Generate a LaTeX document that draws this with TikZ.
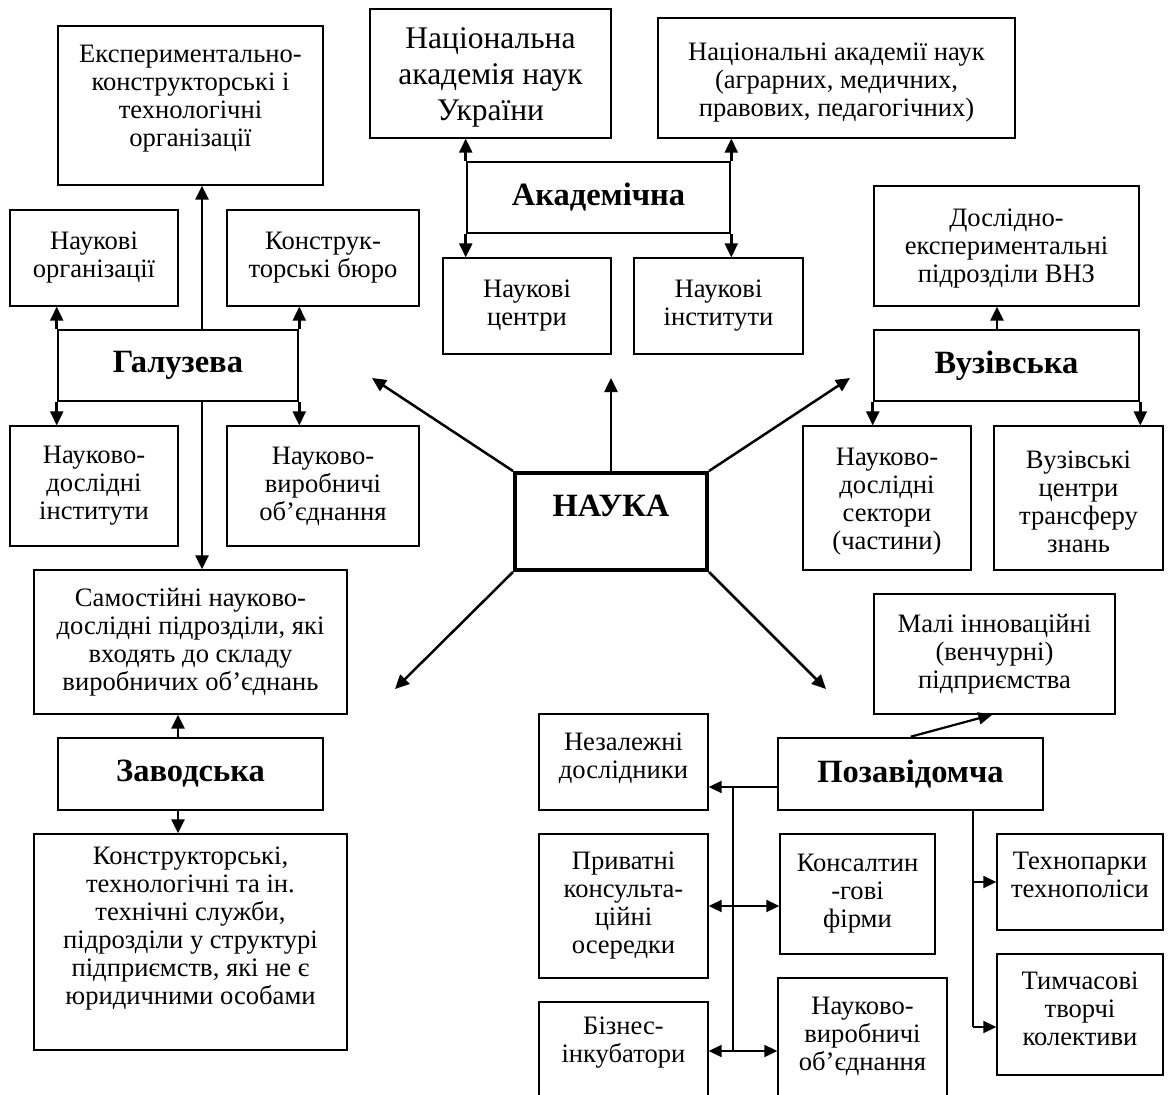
\documentclass[tikz,border=0pt]{standalone}
\usepackage{fontspec}
\setmainfont{Liberation Serif}
\usetikzlibrary{arrows.meta,calc}
\newcommand\nrmtxt{\fontsize{26.6}{28}\selectfont}
\newcommand\bigtxt{\fontsize{31.5}{36}\selectfont}
\newcommand\bldtxt{\fontsize{32.5}{36}\selectfont\bfseries}
\begin{document}
\begin{tikzpicture}[x=1pt,y=-1pt,
  box/.style={draw, line width=1.3pt, align=center, inner sep=2pt, font=\nrmtxt},
  bbox/.style={draw, line width=2.6pt, align=center, inner sep=2pt, font=\bldtxt},
  txt/.style={align=center, inner sep=0pt, font=\nrmtxt},
  arr/.style={line width=2.5pt, -{Triangle[length=14pt,width=13pt]}},
  parr/.style={line width=1.8pt, -{Triangle[length=13pt,width=12pt]}},
  pline/.style={line width=1.8pt}]
\useasboundingbox (0,0) rectangle (1168,1095);
\clip (0,0) rectangle (1168,1095);
% ---------- Galuzeva ----------
\node[box, minimum width=265pt, minimum height=159pt] (ekt) at (190.5,105.5) {};
\node[txt] (ektt) at ([yshift=7pt]ekt.center) {Експериментально-\\конструкторські і\\технологічні\\організації};
\node[box, minimum width=168pt, minimum height=96pt] (norg) at (94,258) {Наукові\\організації};
\node[box, minimum width=192pt, minimum height=96pt] (kb) at (323,258) {Конструк-\\торські бюро};
\node[bbox, minimum width=240pt, minimum height=71pt] (gal) at (178,365.5) {Галузева};
\node[box, minimum width=168pt, minimum height=120pt] (ndi) at (94,486) {Науково-\\дослідні\\інститути};
\node[box, minimum width=192pt, minimum height=120pt] (nvo) at (323,486) {Науково-\\виробничі\\об’єднання};
\node[box, minimum width=313pt, minimum height=144pt] (sam) at (190.5,642) {Самостійні науково-\\дослідні підрозділи, які\\входять до складу\\виробничих об’єднань};
\node[bbox, minimum width=265pt, minimum height=72pt] (zav) at (190.5,774) {Заводська};
\node[box, minimum width=313pt, minimum height=216pt] (kts) at (190.5,942) {};
\node[txt] (ktst) at ([yshift=13pt]kts.center) {Конструкторські,\\технологічні та ін.\\технічні служби,\\підрозділи у структурі\\підприємств, які не є\\юридичними особами};
% ---------- Akademichna ----------
\node[box, minimum width=241pt, minimum height=129pt] (nanu) at (490.5,73.5) {};
\node[txt, font=\bigtxt] (nanut) at ([yshift=-4pt]nanu.center) {Національна\\академія наук\\України};
\node[box, minimum width=357pt, minimum height=120pt] (nan) at (836.5,78) {};
\node[txt] (nant) at ([yshift=-5pt]nan.center) {Національні академії наук\\(аграрних, медичних,\\правових, педагогічних)};
\node[bbox, minimum width=263pt, minimum height=71pt] (akad) at (598.5,197.5) {Академічна};
\node[box, minimum width=168pt, minimum height=96pt] (nc) at (527,306) {Наукові\\центри};
\node[box, minimum width=169pt, minimum height=96pt] (ni) at (718.5,306) {Наукові\\інститути};
% ---------- Vuzivska ----------
\node[box, minimum width=265pt, minimum height=120pt] (dex) at (1006.5,246) {};
\node[txt] (dext) at ([yshift=-3pt]dex.center) {Дослідно-\\експериментальні\\підрозділи ВНЗ};
\node[bbox, minimum width=265pt, minimum height=71pt] (vuz) at (1006.5,365.5) {Вузівська};
\node[box, minimum width=168pt, minimum height=144pt] (nds) at (887,498) {};
\node[txt] (ndst) at ([yshift=-4pt]nds.center) {Науково-\\дослідні\\сектори\\(частини)};
\node[box, minimum width=169pt, minimum height=144pt] (vct) at (1078.5,498) {};
\node[txt] (vctt) at ([yshift=-4pt]vct.center) {Вузівські\\центри\\трансферу\\знань};
% ---------- Nauka ----------
\node[draw, line width=4pt, minimum width=192pt, minimum height=97pt] (nauka) at (611,521.5) {};
\node[txt, font=\bldtxt] (naukat) at ([yshift=16pt]nauka.center) {НАУКА};
% ---------- Pozavidomcha ----------
\node[box, minimum width=241pt, minimum height=120pt] (mali) at (994.5,654) {Малі інноваційні\\(венчурні)\\підприємства};
\node[bbox, minimum width=265pt, minimum height=72pt] (poz) at (910.5,774) {Позавідомча};
\node[box, minimum width=169pt, minimum height=96pt] (nez) at (623.5,762) {};
\node[txt] (nezt) at ([yshift=4pt]nez.center) {Незалежні\\дослідники};
\node[box, minimum width=169pt, minimum height=144pt] (priv) at (623.5,906) {Приватні\\консульта-\\ційні\\осередки};
\node[box, minimum width=155pt, minimum height=120pt] (kons) at (857.5,894) {Консалтин\\-гові\\фірми};
\node[box, minimum width=169pt, minimum height=98pt] (biz) at (623.5,1051) {};
\node[txt] (bizt) at ([yshift=8pt]biz.center) {Бізнес-\\інкубатори};
\node[box, minimum width=169pt, minimum height=122pt] (nvob) at (862.5,1039) {};
\node[txt] (nvobt) at ([yshift=3pt]nvob.center) {Науково-\\виробничі\\об’єднання};
\node[box, minimum width=166pt, minimum height=96pt] (tech) at (1080,882) {};
\node[txt] (techt) at ([yshift=7pt]tech.center) {Технопарки\\технополіси};
\node[box, minimum width=166pt, minimum height=121pt] (tim) at (1080,1014.5) {};
\node[txt] (timt) at ([yshift=6pt]tim.center) {Тимчасові\\творчі\\колективи};
% ---------- helper coordinates ----------
\coordinate (gx) at (202,0);
\coordinate (zx) at (178,0);
\coordinate (vx) at (997,0);
\coordinate (jx) at (733,0);
\coordinate (tx) at (973,1027);
\coordinate (a1) at (372,378);
\coordinate (a2) at (611,378);
\coordinate (a3) at (850,378);
\coordinate (a4) at (395,689);
\coordinate (a5) at (826,689);
% ---------- connectors: Galuzeva ----------
\draw[arr] (gal.north west) -- (gal.north west |- norg.south);
\draw[arr] (gal.north east) -- (gal.north east |- kb.south);
\draw[arr] (gal.south west) -- (gal.south west |- ndi.north);
\draw[arr] (gal.south east) -- (gal.south east |- nvo.north);
\draw[arr] (gal.north -| gx) -- (ekt.south -| gx);
\draw[arr] (gal.south -| gx) -- (sam.north -| gx);
\draw[arr] (zav.north -| zx) -- (sam.south -| zx);
\draw[arr] (zav.south -| zx) -- (kts.north -| zx);
% ---------- connectors: Akademichna ----------
\draw[arr] (akad.north west) -- (akad.north west |- nanu.south);
\draw[arr] (akad.north east) -- (akad.north east |- nan.south);
\draw[arr] (akad.south west) -- (akad.south west |- nc.north);
\draw[arr] (akad.south east) -- (akad.south east |- ni.north);
% ---------- connectors: Vuzivska ----------
\draw[arr] (vuz.north -| vx) -- (dex.south -| vx);
\draw[arr] (vuz.south west) -- (vuz.south west |- nds.north);
\draw[arr] (vuz.south east) -- (vuz.south east |- vct.north);
% ---------- connectors: Nauka ----------
\draw[arr] (nauka.north west) -- (a1);
\draw[arr] (nauka.north) -- (a2);
\draw[arr] (nauka.north east) -- (a3);
\draw[arr] (nauka.south west) -- (a4);
\draw[arr] (nauka.south east) -- (a5);
% ---------- connectors: Pozavidomcha ----------
\draw[line width=2.2pt, -{Triangle[length=14pt,width=12pt]}] ([xshift=134pt]poz.north west) -- ([xshift=119pt]mali.south west);
\draw[parr] ([yshift=-13pt]poz.west) -- ([yshift=-13pt]poz.west -| nez.east);
\draw[pline] ([yshift=-13pt]poz.west -| jx) -- (jx |- biz.east);
\draw[parr] (jx |- priv.east) -- (priv.east);
\draw[parr] (jx |- priv.east) -- (kons.west |- priv.east);
\draw[parr] (jx |- biz.east) -- (biz.east);
\draw[parr] (jx |- biz.east) -- (nvob.west |- biz.east);
\draw[pline] (poz.south -| tx) -- (tx);
\draw[parr] (tx |- tech.west) -- (tech.west);
\draw[parr] (tx) -- (tx -| tim.west);
\end{tikzpicture}
\end{document}
